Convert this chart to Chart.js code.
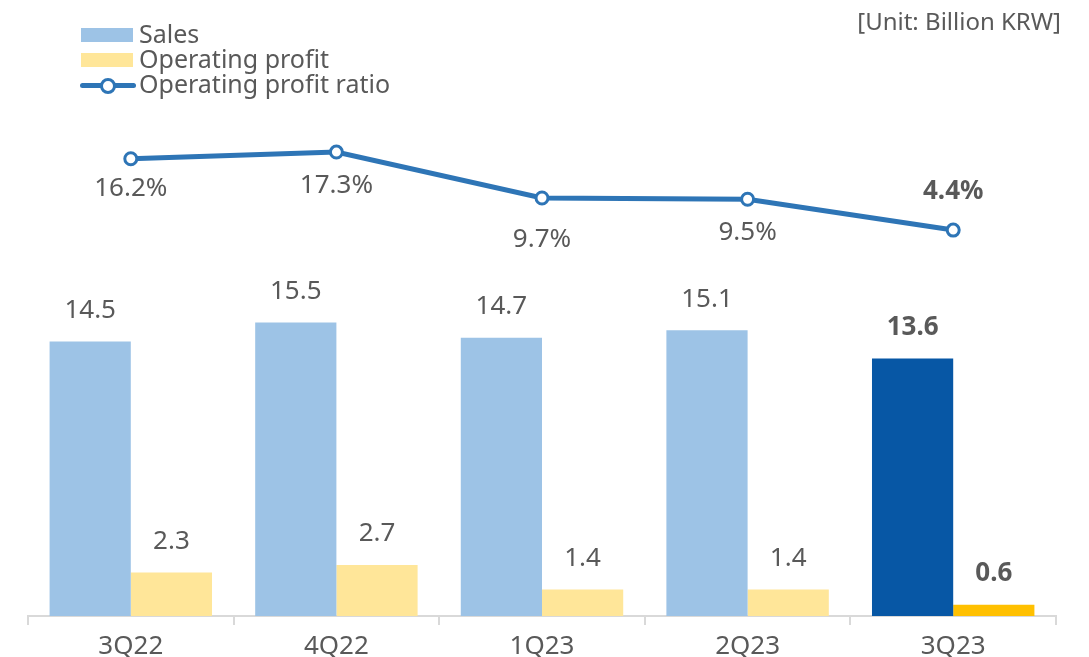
<!DOCTYPE html>
<html>
<head>
<meta charset="utf-8">
<script src="https://cdn.jsdelivr.net/npm/chart.js@4"></script>
<style>
  html, body { margin: 0; padding: 0; background: #fff; }
  #wrap { position: relative; width: 1089px; height: 657px; overflow: hidden; }
  #legend { position: absolute; left: 80px; top: 21px; font-family: "Noto Sans", sans-serif; font-size: 25px; color: #595959; line-height: 25px; }
  #legend div { position: relative; padding-left: 59px; height: 25px; white-space: nowrap; }
  #legend .box { position: absolute; left: 1px; top: 7px; width: 52px; height: 14px; }
  #legend .ln { position: absolute; left: 0; top: 12px; width: 56px; height: 5px; background: #2e75b6; border-radius: 3px; }
  #legend .dot { position: absolute; left: 20px; top: 7px; width: 10px; height: 10px; border: 3px solid #2e75b6; background: #fff; border-radius: 50%; }
  #unit { position: absolute; right: 28px; top: 4px; font-family: "Noto Sans", sans-serif; font-size: 24px; color: #595959; }
</style>
</head>
<body>
<div id="wrap">
  <canvas id="chart" width="1089" height="657"></canvas>
  <div id="legend">
    <div><span class="box" style="background:#9dc3e6"></span>Sales</div>
    <div><span class="box" style="background:#ffe699"></span>Operating profit</div>
    <div><span class="ln"></span><span class="dot"></span>Operating profit ratio</div>
  </div>
  <div id="unit">[Unit: Billion KRW]</div>
</div>
<script>
// data
const quarters = ['3Q22', '4Q22', '1Q23', '2Q23', '3Q23'];
const sales = [14.5, 15.5, 14.7, 15.1, 13.6];
const operatingProfit = [2.3, 2.7, 1.4, 1.4, 0.6];
const profitRatio = [16.2, 17.3, 9.7, 9.5, 4.4];

// label offsets for the ratio line (negative = above the point)
const ratioLabelOffset = [30, 34, 42, 33, -38];

const salesColors = ['#9dc3e6', '#9dc3e6', '#9dc3e6', '#9dc3e6', '#0757a5'];
const profitColors = ['#ffe699', '#ffe699', '#ffe699', '#ffe699', '#ffc000'];

const valueLabels = {
  id: 'valueLabels',
  afterDatasetsDraw(chart) {
    const ctx = chart.ctx;
    ctx.save();
    ctx.textAlign = 'center';
    ctx.textBaseline = 'middle';
    ctx.fillStyle = '#595959';
    const last = quarters.length - 1;
    chart.data.datasets.forEach((ds, di) => {
      const meta = chart.getDatasetMeta(di);
      meta.data.forEach((el, i) => {
        const bold = i === last ? 'bold ' : '';
        ctx.font = bold + '26px "Noto Sans", sans-serif';
        if (ds.type === 'line') {
          ctx.fillText(ds.data[i].toFixed(1) + '%', el.x, el.y + ratioLabelOffset[i]);
        } else {
          ctx.fillText(ds.data[i].toFixed(1), el.x, el.y - 31);
        }
      });
    });
    ctx.restore();
  }
};

new Chart(document.getElementById('chart'), {
  data: {
    labels: quarters,
    datasets: [
      {
        type: 'line',
        label: 'Operating profit ratio',
        data: profitRatio,
        yAxisID: 'y1',
        borderColor: '#2e75b6',
        borderWidth: 5,
        pointRadius: 6,
        pointBorderWidth: 3,
        pointBackgroundColor: '#fff',
        pointBorderColor: '#2e75b6',
        tension: 0,
        order: 0
      },
      {
        type: 'bar',
        label: 'Sales',
        data: sales,
        backgroundColor: salesColors,
        order: 1
      },
      {
        type: 'bar',
        label: 'Operating profit',
        data: operatingProfit,
        backgroundColor: profitColors,
        order: 1
      }
    ]
  },
  options: {
    responsive: false,
    animation: false,
    layout: { padding: { top: 120, left: 28, right: 33, bottom: 0 } },
    datasets: { bar: { categoryPercentage: 0.79, barPercentage: 1 } },
    plugins: { legend: { display: false }, tooltip: { enabled: false } },
    scales: {
      x: {
        grid: { offset: true, drawOnChartArea: false, tickLength: 9, color: '#d9d9d9', lineWidth: 2 },
        border: { color: '#d9d9d9', width: 2 },
        ticks: { color: '#595959', font: { family: '"Noto Sans", sans-serif', size: 26 }, padding: 6 },
        afterFit(scale) { scale.height = 41; }
      },
      y: { display: false, min: 0, max: 26.2 },
      y1: { display: false, min: -59.4, max: 22.6 }
    }
  },
  plugins: [valueLabels]
});
</script>
</body>
</html>
